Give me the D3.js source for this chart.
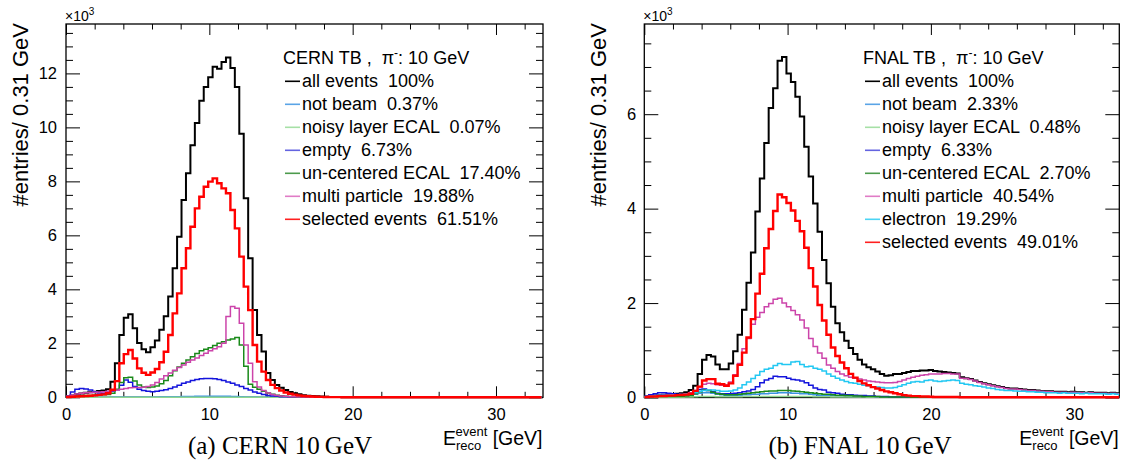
<!DOCTYPE html>
<html><head><meta charset="utf-8">
<script src="https://cdn.jsdelivr.net/npm/d3@7"></script>
<style>
body{margin:0;background:#fff;}
svg{display:block;}
text{white-space:pre;}
</style>
</head><body>
<svg id="c" width="1127" height="466" font-family="Liberation Sans, Arial, Helvetica, sans-serif"></svg>
<script>
// ---------------- data (units of 10^3 entries per 0.31 GeV bin) ----------------
const binWidth = 0.31;
const xMajorTicks = [0, 10, 20, 30];
const cernYTicks = [0, 2, 4, 6, 8, 10, 12];
const fnalYTicks = [0, 2, 4, 6];

const cernAll = [
0.03,0.07,0.11,0.14,0.17,0.19,0.21,0.23,0.25,0.30,
0.58,1.26,2.31,2.95,3.08,2.56,2.01,1.78,1.67,1.85,
2.10,2.50,3.00,3.73,4.78,5.95,7.31,8.30,9.34,10.16,
10.99,11.50,11.86,12.25,12.17,12.42,12.59,12.20,11.50,9.76,
7.37,5.15,3.23,2.31,1.70,0.90,0.64,0.46,0.35,0.27,
0.20,0.15,0.11,0.08,0.06,0.05,0.04,0.03,0.02,0.015,
0.010,0.008,0.006,0.005,0.004,0.003,0.003,0.002,0.002,0.002,
0.001,0.001,0.001,0.001,0.001,0.001,0.001,0.001,0.001,0.001,
0,0,0,0,0,0,0,0,0,0,
0,0,0,0,0,0,0,0,0,0,
0,0,0,0,0,0,0];
const cernNotBeam = [
0.002,0.004,0.005,0.005,0.005,0.005,0.005,0.005,0.006,0.006,
0.008,0.010,0.012,0.014,0.015,0.014,0.012,0.012,0.012,0.013,
0.014,0.016,0.018,0.020,0.022,0.025,0.028,0.031,0.034,0.037,
0.039,0.041,0.042,0.042,0.041,0.039,0.036,0.032,0.027,0.021,
0.015,0.010,0.007,0.005,0.004,0.003,0.002,0.002,0.001,0.001,
0.001,0.001,0,0,0,0,0,0,0,0,
0,0,0,0,0,0,0,0,0,0,
0,0,0,0,0,0,0,0,0,0,
0,0,0,0,0,0,0,0,0,0,
0,0,0,0,0,0,0,0,0,0,
0,0,0,0,0,0,0];
const cernNoisy = [
0.001,0.001,0.001,0.001,0.001,0.001,0.001,0.001,0.001,0.002,
0.002,0.003,0.003,0.003,0.003,0.003,0.003,0.003,0.003,0.003,
0.003,0.003,0.003,0.004,0.004,0.004,0.004,0.004,0.004,0.004,
0.004,0.004,0.004,0.004,0.004,0.004,0.004,0.003,0.003,0.003,
0.002,0.002,0.001,0.001,0.001,0.001,0,0,0,0,
0,0,0,0,0,0,0,0,0,0,
0,0,0,0,0,0,0,0,0,0,
0,0,0,0,0,0,0,0,0,0,
0,0,0,0,0,0,0,0,0,0,
0,0,0,0,0,0,0,0,0,0,
0,0,0,0,0,0,0];
const cernEmpty = [
0.05,0.20,0.30,0.33,0.31,0.27,0.21,0.16,0.15,0.16,
0.22,0.28,0.45,0.64,0.56,0.40,0.30,0.25,0.22,0.21,
0.22,0.25,0.28,0.33,0.38,0.45,0.52,0.57,0.62,0.66,
0.69,0.70,0.70,0.69,0.66,0.62,0.57,0.52,0.46,0.40,
0.33,0.27,0.20,0.15,0.10,0.07,0.05,0.035,0.025,0.018,
0.012,0.008,0.005,0.004,0.003,0.002,0.002,0.001,0.001,0.001,
0,0,0,0,0,0,0,0,0,0,
0,0,0,0,0,0,0,0,0,0,
0,0,0,0,0,0,0,0,0,0,
0,0,0,0,0,0,0,0,0,0,
0,0,0,0,0,0,0];
const cernUncentered = [
0.02,0.04,0.05,0.06,0.07,0.07,0.08,0.08,0.09,0.10,
0.15,0.30,0.55,0.72,0.74,0.60,0.46,0.38,0.36,0.38,
0.42,0.50,0.62,0.80,0.98,1.12,1.26,1.38,1.50,1.62,
1.72,1.78,1.84,1.92,2.00,2.06,2.12,2.16,2.22,1.94,
1.15,0.48,0.37,0.30,0.22,0.16,0.11,0.08,0.06,0.04,
0.03,0.02,0.015,0.01,0.008,0.006,0.004,0.003,0.002,0.002,
0.001,0.001,0.001,0.001,0.001,0,0,0,0,0,
0,0,0,0,0,0,0,0,0,0,
0,0,0,0,0,0,0,0,0,0,
0,0,0,0,0,0,0,0,0,0,
0,0,0,0,0,0,0];
const cernMulti = [
0.04,0.08,0.12,0.15,0.17,0.18,0.19,0.20,0.21,0.22,
0.24,0.27,0.30,0.33,0.35,0.36,0.36,0.37,0.40,0.46,
0.55,0.68,0.80,0.90,1.00,1.10,1.20,1.30,1.38,1.46,
1.55,1.63,1.72,1.80,1.87,2.00,2.99,3.36,3.30,2.74,
1.94,1.26,0.58,0.38,0.25,0.16,0.10,0.07,0.05,0.035,
0.025,0.02,0.015,0.01,0.008,0.006,0.004,0.003,0.002,0.002,
0.001,0.001,0.001,0.001,0.001,0,0,0,0,0,
0,0,0,0,0,0,0,0,0,0,
0,0,0,0,0,0,0,0,0,0,
0,0,0,0,0,0,0,0,0,0,
0,0,0,0,0,0,0];
const cernSelected = [
0.01,0.02,0.03,0.04,0.05,0.06,0.07,0.09,0.11,0.15,
0.28,0.60,1.26,1.60,1.75,1.44,1.07,0.91,0.83,0.92,
1.05,1.30,1.69,2.31,3.11,3.85,4.78,5.52,6.32,7.00,
7.43,7.80,7.99,8.11,7.93,7.74,7.56,6.94,6.26,5.21,
4.10,3.23,1.94,1.32,0.95,0.64,0.46,0.34,0.25,0.18,
0.13,0.10,0.07,0.05,0.04,0.03,0.02,0.015,0.01,0.008,
0.006,0.005,0.004,0.003,0.002,0.002,0.001,0.001,0.001,0.001,
0,0,0,0,0,0,0,0,0,0,
0,0,0,0,0,0,0,0,0,0,
0,0,0,0,0,0,0,0,0,0,
0,0,0,0,0,0,0];

const fnalAll = [
0.02,0.03,0.04,0.05,0.06,0.07,0.07,0.08,0.09,0.11,
0.16,0.25,0.50,0.80,0.90,0.87,0.70,0.60,0.60,0.72,
0.98,1.33,1.86,2.43,3.07,3.94,4.64,5.39,6.13,6.55,
7.13,7.21,6.86,6.68,6.37,5.95,5.31,4.68,4.11,3.51,
2.91,2.42,1.92,1.57,1.38,1.20,1.05,0.92,0.80,0.70,
0.64,0.60,0.55,0.50,0.46,0.47,0.50,0.50,0.52,0.54,
0.56,0.56,0.57,0.57,0.58,0.56,0.55,0.54,0.53,0.52,
0.51,0.43,0.41,0.39,0.36,0.33,0.30,0.28,0.26,0.24,
0.22,0.20,0.19,0.19,0.18,0.17,0.16,0.16,0.15,0.14,
0.13,0.13,0.12,0.12,0.12,0.11,0.12,0.11,0.11,0.10,
0.11,0.10,0.10,0.10,0.09,0.10,0.09];
const fnalNotBeam = [
0.01,0.02,0.03,0.04,0.05,0.05,0.05,0.05,0.05,0.05,
0.06,0.07,0.09,0.10,0.10,0.09,0.07,0.06,0.05,0.05,
0.05,0.05,0.06,0.06,0.07,0.07,0.08,0.08,0.09,0.09,
0.10,0.10,0.10,0.09,0.09,0.08,0.08,0.07,0.06,0.05,
0.05,0.04,0.04,0.03,0.03,0.03,0.02,0.02,0.02,0.02,
0.02,0.02,0.01,0.01,0.01,0.01,0.01,0.01,0.01,0.01,
0.01,0.01,0.01,0.01,0.01,0.01,0.01,0.01,0.01,0.01,
0.01,0.01,0.01,0.01,0.01,0.01,0.01,0.01,0.01,0.01,
0.005,0.005,0.005,0.005,0.005,0.005,0.005,0.005,0.005,0.005,
0.005,0.005,0.005,0.005,0.005,0.005,0.005,0.005,0.005,0.005,
0.005,0.005,0.005,0.005,0.005,0.005,0.005];
const fnalNoisy = [
0.005,0.005,0.005,0.005,0.005,0.005,0.005,0.005,0.005,0.008,
0.01,0.015,0.02,0.02,0.02,0.02,0.015,0.015,0.015,0.015,
0.015,0.015,0.02,0.02,0.02,0.02,0.02,0.02,0.02,0.02,
0.02,0.02,0.02,0.02,0.02,0.02,0.02,0.02,0.015,0.015,
0.015,0.015,0.01,0.01,0.01,0.01,0.01,0.01,0.01,0.01,
0.005,0.005,0.005,0.005,0.005,0.005,0.005,0.005,0.005,0.005,
0.005,0.005,0.005,0.005,0.005,0.005,0.005,0.005,0.005,0.005,
0.005,0.005,0.005,0.005,0.005,0.005,0.005,0.005,0.005,0.005,
0.005,0.005,0.005,0.005,0.005,0.005,0.005,0.005,0.005,0.005,
0.005,0.005,0.005,0.005,0.005,0.005,0.005,0.005,0.005,0.005,
0.005,0.005,0.005,0.005,0.005,0.005,0.005];
const fnalEmpty = [
0.03,0.06,0.08,0.10,0.10,0.09,0.08,0.07,0.06,0.06,
0.08,0.12,0.17,0.18,0.15,0.12,0.09,0.08,0.08,0.08,
0.09,0.10,0.12,0.14,0.17,0.23,0.31,0.37,0.40,0.45,
0.44,0.44,0.41,0.38,0.37,0.35,0.31,0.26,0.20,0.17,
0.16,0.11,0.10,0.09,0.07,0.06,0.06,0.05,0.04,0.04,
0.03,0.03,0.02,0.02,0.02,0.01,0.01,0.01,0.01,0.01,
0.01,0.01,0.01,0.01,0.01,0.005,0.005,0.005,0.005,0.005,
0.005,0.005,0.005,0.005,0.005,0.005,0.005,0.005,0.005,0.005,
0.005,0.005,0.005,0.005,0.005,0.005,0.005,0.005,0.005,0.005,
0.005,0.005,0.005,0.005,0.005,0.005,0.005,0.005,0.005,0.005,
0.005,0.005,0.005,0.005,0.005,0.005,0.005];
const fnalUncentered = [
0.01,0.01,0.02,0.02,0.02,0.02,0.02,0.02,0.02,0.03,
0.04,0.08,0.12,0.16,0.15,0.11,0.08,0.07,0.06,0.06,
0.06,0.07,0.08,0.09,0.10,0.11,0.12,0.13,0.14,0.14,
0.15,0.15,0.15,0.14,0.13,0.12,0.11,0.10,0.09,0.08,
0.07,0.07,0.06,0.05,0.05,0.04,0.04,0.03,0.03,0.02,
0.02,0.02,0.02,0.01,0.01,0.01,0.01,0.01,0.01,0.01,
0.005,0.005,0.005,0.005,0.005,0.005,0.005,0.005,0.005,0.005,
0.005,0.005,0.005,0.005,0.005,0.005,0.005,0.005,0.005,0.005,
0.005,0.005,0.005,0.005,0.005,0.005,0.005,0.005,0.005,0.005,
0.005,0.005,0.005,0.005,0.005,0.005,0.005,0.005,0.005,0.005,
0.005,0.005,0.005,0.005,0.005,0.005,0.005];
const fnalMulti = [
0.01,0.02,0.03,0.04,0.05,0.05,0.06,0.06,0.07,0.08,
0.10,0.15,0.22,0.28,0.30,0.29,0.27,0.26,0.27,0.33,
0.48,0.72,1.03,1.25,1.55,1.70,1.80,1.92,1.99,2.08,
2.10,2.00,1.92,1.84,1.75,1.64,1.47,1.25,1.08,0.94,
0.83,0.69,0.62,0.55,0.50,0.46,0.43,0.41,0.39,0.37,
0.35,0.34,0.33,0.32,0.31,0.31,0.32,0.34,0.37,0.40,
0.43,0.45,0.47,0.48,0.50,0.50,0.50,0.51,0.51,0.50,
0.50,0.41,0.40,0.38,0.35,0.32,0.29,0.27,0.25,0.23,
0.21,0.19,0.18,0.18,0.17,0.16,0.15,0.15,0.14,0.13,
0.12,0.12,0.11,0.11,0.11,0.10,0.11,0.10,0.10,0.09,
0.10,0.09,0.09,0.09,0.08,0.09,0.08];
const fnalElectron = [
0.02,0.03,0.03,0.04,0.04,0.05,0.05,0.06,0.06,0.07,
0.08,0.10,0.13,0.15,0.16,0.16,0.15,0.13,0.13,0.14,
0.16,0.20,0.27,0.33,0.40,0.47,0.55,0.60,0.62,0.68,
0.72,0.70,0.70,0.75,0.76,0.70,0.65,0.66,0.62,0.60,
0.56,0.50,0.45,0.41,0.37,0.34,0.31,0.30,0.28,0.26,
0.25,0.23,0.22,0.21,0.20,0.20,0.21,0.24,0.27,0.30,
0.33,0.34,0.33,0.36,0.37,0.35,0.34,0.35,0.36,0.37,
0.36,0.30,0.28,0.27,0.25,0.24,0.22,0.20,0.19,0.17,
0.16,0.15,0.15,0.14,0.13,0.13,0.12,0.12,0.11,0.11,
0.10,0.10,0.10,0.09,0.10,0.09,0.09,0.09,0.08,0.09,
0.08,0.08,0.08,0.08,0.07,0.08,0.07];
const fnalSelected = [
0.01,0.02,0.02,0.03,0.03,0.04,0.04,0.05,0.05,0.06,
0.08,0.14,0.23,0.36,0.39,0.39,0.29,0.28,0.25,0.30,
0.46,0.69,0.95,1.27,1.66,2.20,2.62,3.16,3.57,3.95,
4.30,4.24,4.12,3.96,3.74,3.52,3.17,2.74,2.35,1.96,
1.63,1.33,1.06,0.88,0.74,0.62,0.50,0.42,0.35,0.30,
0.26,0.22,0.19,0.16,0.13,0.11,0.09,0.07,0.05,0.04,
0.03,0.03,0.02,0.02,0.015,0.01,0.01,0.01,0.01,0.01,
0.01,0.005,0.005,0.005,0.005,0.005,0.005,0.005,0.005,0.005,
0.005,0.005,0.005,0.005,0.005,0.005,0.005,0.005,0.005,0.005,
0.005,0.005,0.005,0.005,0.005,0.005,0.005,0.005,0.005,0.005,
0.005,0.005,0.005,0.005,0.005,0.005,0.005];

const cernLabels = ["all events  100%","not beam  0.37%","noisy layer ECAL  0.07%","empty  6.73%","un-centered ECAL  17.40%","multi particle  19.88%","selected events  61.51%"];
const fnalLabels = ["all events  100%","not beam  2.33%","noisy layer ECAL  0.48%","empty  6.33%","un-centered ECAL  2.70%","multi particle  40.54%","electron  19.29%","selected events  49.01%"];

// ---------------- styles ----------------
const C = {
  all:"#000000", notBeam:"#3b93e0", noisy:"#8fd68f", empty:"#1414dc",
  unc:"#1a8a1a", multi:"#cc44aa", electron:"#22c8f2", sel:"#ff0000"
};
const LEG = {
  all:"#000000", notBeam:"#5aa4e6", noisy:"#a6e0a6", empty:"#6464e0",
  unc:"#4c9a4c", multi:"#e07cc6", electron:"#4cd4f4", sel:"#ff2020"
};

const svg = d3.select("#c");
const defs = svg.append("defs");

function drawPanel(p) {
  const x = d3.scaleLinear().domain([0, p.xMax]).range([p.left, p.right]);
  const y = d3.scaleLinear().domain([0, p.yMax]).range([p.bottom, p.top]);
  const g = svg.append("g");

  defs.append("clipPath").attr("id", "clip" + p.id).append("rect")
    .attr("x", p.left).attr("y", p.top)
    .attr("width", p.right - p.left).attr("height", p.bottom - p.top + 2);

  g.append("rect").attr("x", p.left).attr("y", p.top)
    .attr("width", p.right - p.left).attr("height", p.bottom - p.top)
    .attr("fill", "none").attr("stroke", "#000").attr("stroke-width", 1.3);

  const xMinor = d3.range(2, p.xMax, 2).filter(v => v % 10 !== 0);
  const yMinor = d3.range(0.5, p.yMax, 0.5).filter(v => Math.abs(v / 2 - Math.round(v / 2)) > 1e-6);

  const axes = [
    [d3.axisBottom(x).tickValues(xMinor).tickSize(-5.5).tickFormat(""), `translate(0,${p.bottom})`],
    [d3.axisBottom(x).tickValues(xMajorTicks).tickSize(-11).tickPadding(11).tickFormat(d3.format("d")), `translate(0,${p.bottom})`],
    [d3.axisTop(x).tickValues(xMinor).tickSize(-5.5).tickFormat(""), `translate(0,${p.top})`],
    [d3.axisTop(x).tickValues(xMajorTicks).tickSize(-11).tickFormat(""), `translate(0,${p.top})`],
    [d3.axisLeft(y).tickValues(yMinor).tickSize(-7).tickFormat(""), `translate(${p.left},0)`],
    [d3.axisLeft(y).tickValues(p.yTicks).tickSize(-14).tickPadding(p.yPad).tickFormat(d3.format("d")), `translate(${p.left},0)`],
    [d3.axisRight(y).tickValues(yMinor).tickSize(-7).tickFormat(""), `translate(${p.right},0)`],
    [d3.axisRight(y).tickValues(p.yTicks).tickSize(-14).tickFormat(""), `translate(${p.right},0)`]
  ];
  axes.forEach(([ax, tr]) => {
    const a = g.append("g").attr("transform", tr).call(ax);
    a.attr("font-family", null).attr("font-size", null);
    a.select(".domain").remove();
    a.selectAll(".tick line").attr("stroke", "#000").attr("stroke-width", 1);
    a.selectAll(".tick text").attr("font-size", 16.5).attr("fill", "#000");
  });

  const line = d3.line().x(d => x(d[0])).y(d => y(d[1])).curve(d3.curveStepAfter);
  const hg = g.append("g").attr("clip-path", `url(#clip${p.id})`);
  p.series.forEach(s => {
    const pts = s.values.map((v, i) => [i * binWidth, v]);
    pts.push([s.values.length * binWidth, s.values[s.values.length - 1]]);
    hg.append("path").attr("d", line(pts)).attr("fill", "none")
      .attr("stroke", s.color).attr("stroke-width", s.width)
      .attr("stroke-linejoin", "miter");
  });

  const e = g.append("text").attr("x", p.left - 1).attr("y", 21).attr("font-size", 14);
  e.append("tspan").text("\u00d710");
  e.append("tspan").attr("font-size", 10).attr("dy", -6).text("3");

  g.append("text").attr("transform", `translate(${p.yTitleX},${p.top - 1}) rotate(-90)`)
    .attr("text-anchor", "end").attr("font-size", 22).text("#entries/ 0.31 GeV");

  g.append("text").attr("x", p.right - 100).attr("y", 445).attr("font-size", 19.5).text("E");
  g.append("text").attr("x", p.right - 87.5).attr("y", 436).attr("font-size", 13).text("event");
  g.append("text").attr("x", p.right - 87).attr("y", 449.5).attr("font-size", 13).text("reco");
  g.append("text").attr("x", p.right - 0.5).attr("y", 445).attr("text-anchor", "end").attr("font-size", 19.5).text("[GeV]");

  g.append("text").attr("x", p.captionX).attr("y", 454).attr("text-anchor", "middle")
    .attr("font-family", "Liberation Serif, Times New Roman, serif").attr("font-size", 25)
    .text(p.caption);

  const lt = g.append("text").attr("x", p.legX).attr("y", 64).attr("font-size", 18);
  lt.append("tspan").text(p.legTitle + " ,  \u03c0");
  lt.append("tspan").attr("font-size", 12).attr("dy", -7).text("-");
  lt.append("tspan").attr("dy", 7).text(": 10 GeV");
  p.series.forEach((s, i) => {
    const yy = 87.3 + 23 * i;
    g.append("line").attr("x1", p.legX + 2).attr("x2", p.legX + 17)
      .attr("y1", yy - 6).attr("y2", yy - 6)
      .attr("stroke", s.legColor).attr("stroke-width", 1.6);
    g.append("text").attr("x", p.legX + 19).attr("y", yy).attr("font-size", 18).text(s.label);
  });
}

drawPanel({
  id: "a", left: 66, right: 543, top: 24, bottom: 397.3, xMax: 33.28, yMax: 13.83,
  yTicks: cernYTicks, yPad: 9, yTitleX: 28, captionX: 280, caption: "(a) CERN 10\u2009GeV",
  legX: 283, legTitle: "CERN TB",
  series: [
    {values: cernAll, color: C.all, legColor: LEG.all, width: 2, label: cernLabels[0]},
    {values: cernNotBeam, color: C.notBeam, legColor: LEG.notBeam, width: 1.5, label: cernLabels[1]},
    {values: cernNoisy, color: C.noisy, legColor: LEG.noisy, width: 1.5, label: cernLabels[2]},
    {values: cernEmpty, color: C.empty, legColor: LEG.empty, width: 1.5, label: cernLabels[3]},
    {values: cernUncentered, color: C.unc, legColor: LEG.unc, width: 1.5, label: cernLabels[4]},
    {values: cernMulti, color: C.multi, legColor: LEG.multi, width: 1.5, label: cernLabels[5]},
    {values: cernSelected, color: C.sel, legColor: LEG.sel, width: 2.4, label: cernLabels[6]}
  ]
});

drawPanel({
  id: "b", left: 644.3, right: 1119.3, top: 24, bottom: 397.5, xMax: 33.15, yMax: 7.91,
  yTicks: fnalYTicks, yPad: 8, yTitleX: 606, captionX: 860, caption: "(b) FNAL 10\u2009GeV",
  legX: 863, legTitle: "FNAL TB",
  series: [
    {values: fnalAll, color: C.all, legColor: LEG.all, width: 2, label: fnalLabels[0]},
    {values: fnalNotBeam, color: C.notBeam, legColor: LEG.notBeam, width: 1.5, label: fnalLabels[1]},
    {values: fnalNoisy, color: C.noisy, legColor: LEG.noisy, width: 1.5, label: fnalLabels[2]},
    {values: fnalEmpty, color: C.empty, legColor: LEG.empty, width: 1.5, label: fnalLabels[3]},
    {values: fnalUncentered, color: C.unc, legColor: LEG.unc, width: 1.5, label: fnalLabels[4]},
    {values: fnalMulti, color: C.multi, legColor: LEG.multi, width: 1.5, label: fnalLabels[5]},
    {values: fnalElectron, color: C.electron, legColor: LEG.electron, width: 1.5, label: fnalLabels[6]},
    {values: fnalSelected, color: C.sel, legColor: LEG.sel, width: 2.4, label: fnalLabels[7]}
  ]
});
</script>
</body></html>
